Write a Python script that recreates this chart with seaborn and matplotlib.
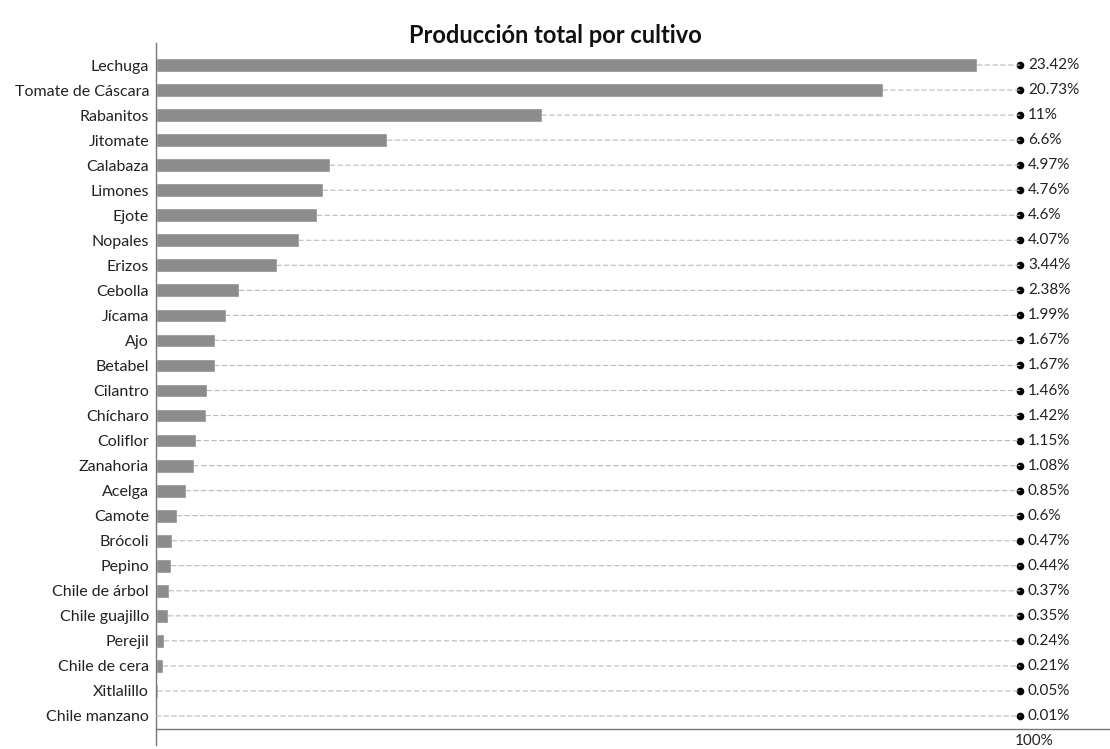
#!/usr/bin/env python3
# -*- coding: utf-8 -*-
"""
Producción total por cultivo - barras horizontales con porcentaje a la derecha
"""

import matplotlib
matplotlib.use('Agg')
import matplotlib.pyplot as plt
import matplotlib.transforms as mtransforms
import seaborn as sns
import pandas as pd

# datos
cultivos = ['Lechuga', 'Tomate de Cáscara', 'Rabanitos', 'Jitomate', 'Calabaza',
            'Limones', 'Ejote', 'Nopales', 'Erizos', 'Cebolla', 'Jícama', 'Ajo',
            'Betabel', 'Cilantro', 'Chícharo', 'Coliflor', 'Zanahoria', 'Acelga',
            'Camote', 'Brócoli', 'Pepino', 'Chile de árbol', 'Chile guajillo',
            'Perejil', 'Chile de cera', 'Xitlalillo', 'Chile manzano']
porcentajes = [23.42, 20.73, 11, 6.6, 4.97, 4.76, 4.6, 4.07, 3.44, 2.38, 1.99,
               1.67, 1.67, 1.46, 1.42, 1.15, 1.08, 0.85, 0.6, 0.47, 0.44, 0.37,
               0.35, 0.24, 0.21, 0.05, 0.01]
etiquetas = ['23.42%', '20.73%', '11%', '6.6%', '4.97%', '4.76%', '4.6%', '4.07%',
             '3.44%', '2.38%', '1.99%', '1.67%', '1.67%', '1.46%', '1.42%', '1.15%',
             '1.08%', '0.85%', '0.6%', '0.47%', '0.44%', '0.37%', '0.35%', '0.24%',
             '0.21%', '0.05%', '0.01%']
total_label = '100%'

df = pd.DataFrame({'cultivo': cultivos, 'pct': porcentajes})

sns.set_style('white')
plt.rcParams['font.family'] = ['Lato', 'DejaVu Sans']

fig = plt.figure(figsize=(11.1, 7.49), dpi=100)
ax = fig.add_axes([0.1405, 0.0053, 0.8595, 0.9373])

sns.barplot(data=df, y='cultivo', x='pct', order=cultivos, color='#8c8c8c',
            width=0.55, ax=ax, saturation=1)

ax.set_xlim(0, 27.2)
ax.set_ylim(27.16, -0.88)

# puntos en posición fija (fracción del eje), línea punteada desde la barra
x_dot = 0.9055
trans = mtransforms.blended_transform_factory(ax.transAxes, ax.transData)
for i, (v, lab) in enumerate(zip(porcentajes, etiquetas)):
    ax.annotate('', xy=(x_dot, i), xycoords=trans, xytext=(v, i), textcoords='data',
                arrowprops=dict(arrowstyle='-', color='#b8b8b8', linestyle=(0, (4, 3)),
                                linewidth=0.8, shrinkA=0, shrinkB=0))
    ax.plot([x_dot], [i], 'o', color='black', markersize=5.5, markeredgewidth=0,
            transform=trans)
    ax.text(x_dot + 0.0085, i, lab, transform=trans, va='center', ha='left',
            fontsize=11, color='#222222')

# línea inferior y total
ax.axhline(26.52, color='#777777', linewidth=1)
ax.text(0.921, 26.98, total_label, transform=trans, va='center', ha='center',
        fontsize=11, color='#222222')

ax.set_xlabel('')
ax.set_ylabel('')
ax.set_xticks([])
ax.tick_params(axis='y', length=0, pad=5, labelsize=11.5, labelcolor='#222222')
for s in ['top', 'right', 'bottom']:
    ax.spines[s].set_visible(False)
ax.spines['left'].set_color('#777777')
ax.spines['left'].set_linewidth(1)

fig.text(0.5, 0.942, 'Producción total por cultivo', ha='center', va='baseline',
         fontsize=17, fontweight='bold', color='#111111')

fig.savefig('out.png', dpi=100, facecolor='white')
